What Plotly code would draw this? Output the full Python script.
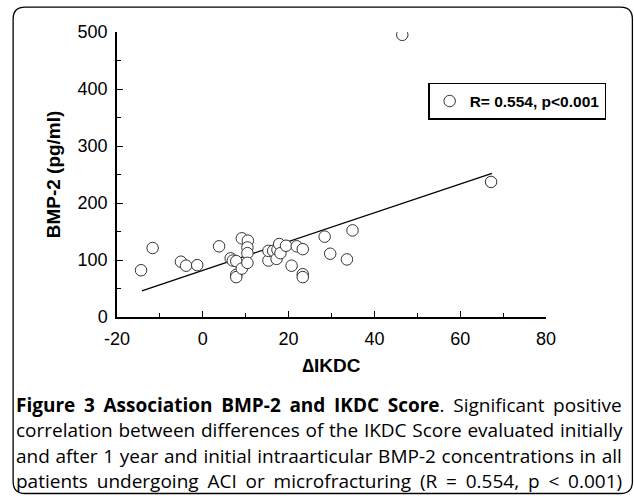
import plotly.graph_objects as go

# Data
delta_ikdc = [-14.4, -11.7, -5.1, -3.9, -1.3, 3.8, 6.5, 7.0, 7.8, 7.8, 7.8, 9.1, 9.1,
              10.5, 10.4, 10.4, 10.4, 15.3, 15.3, 16.4, 17.2, 17.4, 17.8, 18.1, 19.4,
              20.7, 21.9, 23.3, 23.3, 23.3, 28.4, 29.7, 33.6, 34.9, 67.2, 46.5]
bmp2 = [82, 121, 97, 90, 91, 124, 103, 99, 98, 74, 70, 138, 85,
        134, 122, 112, 95, 99, 116, 116, 102, 118, 128, 112, 125,
        90, 124, 119, 75, 70, 141, 111, 101, 152, 237, 495]
fit_x = [-14.2, 67.4]
fit_y = [46, 252]

x_ticks = [-20, 0, 20, 40, 60, 80]
y_ticks = [0, 100, 200, 300, 400, 500]
x_tick_labels = ["-20", "0", "20", "40", "60", "80"]
y_tick_labels = ["0", "100", "200", "300", "400", "500"]
legend_label = "R= 0.554, p<0.001"
x_title = "∆IKDC"
y_title = "BMP-2 (pg/ml)"
caption_lines = [
    "<b>Figure 3 Association BMP-2 and IKDC Score</b>. Significant positive",
    "correlation between differences of the IKDC Score evaluated initially",
    "and after 1 year and initial intraarticular BMP-2 concentrations in all",
    "patients undergoing ACI or microfracturing (R = 0.554, p &lt; 0.001)",
]
# extra space between words, to imitate the justified caption
caption_word_spacing = [3.7, 0.8, 0.7, 3.9]

W, H = 634, 499
L, T = 116.5, 32
R = W - 546
B = H - 317.3
PW, PH = W - L - R, H - T - B


def px(x):
    return (x - L) / PW


def py(y):
    return (H - B - y) / PH


fig = go.Figure()
fig.add_trace(go.Scatter(
    x=fit_x, y=fit_y, mode="lines", line=dict(color="black", width=1.3),
    showlegend=False, hoverinfo="skip"))
fig.add_trace(go.Scatter(
    x=delta_ikdc, y=bmp2, mode="markers", name=legend_label,
    marker=dict(symbol="circle", size=11.5, color="white",
                line=dict(color="#333333", width=1))))

axis_font = dict(family="Liberation Sans, Arial", size=18, color="black")
title_font = dict(family="Liberation Sans, Arial", size=19, color="black")
fig.update_xaxes(
    range=[-20, 80], tickvals=x_ticks, ticktext=x_tick_labels,
    ticks="inside", ticklen=6, tickwidth=1.3,
    tickcolor="black", showline=True, linecolor="black", linewidth=1.5,
    showgrid=False, zeroline=False, tickfont=axis_font, ticklabelstandoff=5,
    minor=dict(dtick=10, ticks="inside", ticklen=4, tickcolor="black", tickwidth=1.3),
    title=dict(text="<b>" + x_title + "</b>", standoff=10, font=title_font))
fig.update_yaxes(
    range=[0, 500], tickvals=y_ticks, ticktext=y_tick_labels,
    ticks="inside", ticklen=6, tickwidth=1.3,
    tickcolor="black", showline=True, linecolor="black", linewidth=1.5,
    showgrid=False, zeroline=False, tickfont=axis_font, ticklabelstandoff=4,
    minor=dict(dtick=50, ticks="inside", ticklen=4, tickcolor="black", tickwidth=1.3),
    title=dict(text="<b>" + y_title + "</b>", standoff=12, font=title_font))

# rounded frame around the whole figure (window pixel coordinates)
x0, x1, y0, y1, r = 12.5, 632.5, 7, 494, 12
rx, ry = r / PW, r / PH
X0, X1, Y0, Y1 = px(x0), px(x1), py(y0), py(y1)
path = (f"M {X0 + rx},{Y0} L {X1 - rx},{Y0} Q {X1},{Y0} {X1},{Y0 - ry} "
        f"L {X1},{Y1 + ry} Q {X1},{Y1} {X1 - rx},{Y1} "
        f"L {X0 + rx},{Y1} Q {X0},{Y1} {X0},{Y1 + ry} "
        f"L {X0},{Y0 - ry} Q {X0},{Y0} {X0 + rx},{Y0} Z")
fig.add_shape(type="path", path=path, xref="paper", yref="paper",
              line=dict(color="black", width=1.3), layer="below")

line_y = [405, 430, 456, 481]
for txt, ws, yy in zip(caption_lines, caption_word_spacing, line_y):
    fig.add_annotation(text=f'<span style="word-spacing:{ws}px">{txt}</span>',
                       x=px(13), y=py(yy), xref="paper", yref="paper",
                       xanchor="left", yanchor="middle", showarrow=False,
                       font=dict(family="Open Sans", size=19, color="black"))

fig.update_layout(
    width=W, height=H, margin=dict(l=L, r=R, t=T, b=B, autoexpand=False),
    paper_bgcolor="white", plot_bgcolor="white",
    legend=dict(x=px(428), y=py(83), xanchor="left", yanchor="top",
                bordercolor="black", borderwidth=1.5, bgcolor="white",
                font=dict(family="Liberation Sans, Arial", size=15.5,
                          color="black", weight="bold"),
                itemwidth=30, tracegroupgap=0),
)

fig.write_html("out.html",
               config={"displayModeBar": False},
               post_script="document.body.style.margin='0px';"
                           "document.body.style.overflow='hidden';")
